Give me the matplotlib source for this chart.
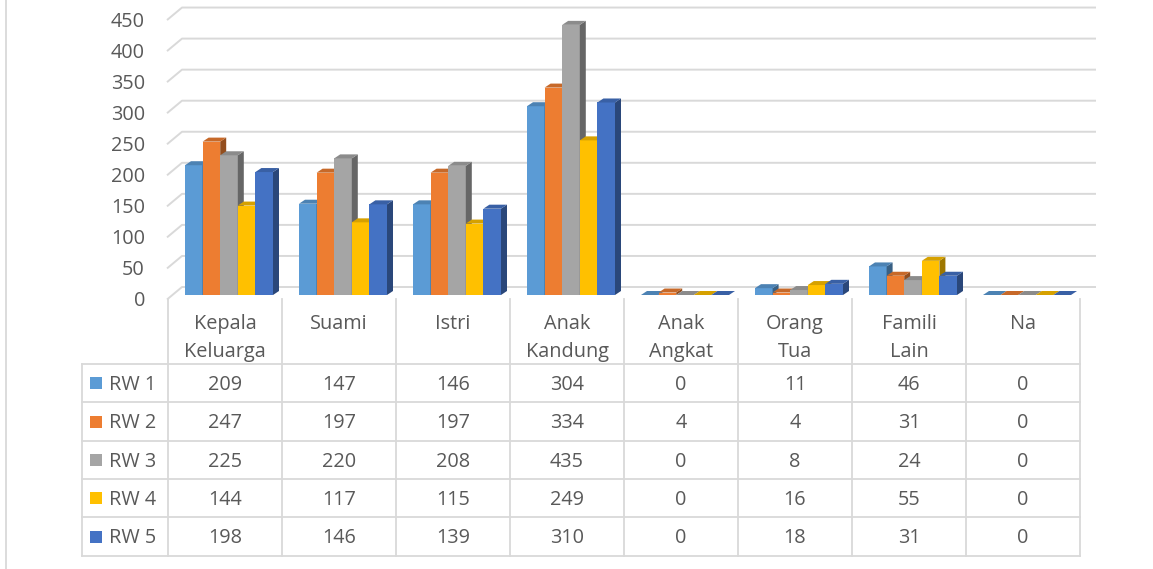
import matplotlib
matplotlib.use("Agg")
import matplotlib.pyplot as plt
from matplotlib.patches import Polygon, Rectangle
from matplotlib.colors import to_rgb
import numpy as np

plt.rcParams['font.family'] = ['Open Sans', 'DejaVu Sans']

categories = ["Kepala\nKeluarga", "Suami", "Istri", "Anak\nKandung", "Anak\nAngkat",
              "Orang\nTua", "Famili\nLain", "Na"]
series_names = ["RW 1", "RW 2", "RW 3", "RW 4", "RW 5"]
rw1 = [209, 147, 146, 304, 0, 11, 46, 0]
rw2 = [247, 197, 197, 334, 4, 4, 31, 0]
rw3 = [225, 220, 208, 435, 0, 8, 24, 0]
rw4 = [144, 117, 115, 249, 0, 16, 55, 0]
rw5 = [198, 146, 139, 310, 0, 18, 31, 0]
series_values = [rw1, rw2, rw3, rw4, rw5]
y_ticks = [0, 50, 100, 150, 200, 250, 300, 350, 400, 450]
colors = ["#5B9BD5", "#ED7D31", "#A5A5A5", "#FFC000", "#4472C4"]

TEXT = "#595959"
GRID = "#D9D9D9"
FS = 14.3

W, H = 1153, 569
fig = plt.figure(figsize=(W / 100, H / 100), dpi=100)
fig.patch.set_facecolor("white")

# pixel overlay axes (for table)
pax = fig.add_axes([0, 0, 1, 1], zorder=0)
pax.set_xlim(0, W)
pax.set_ylim(H, 0)
pax.axis("off")

# geometry (pixels)
col_w = 114.0
x_left = 168.0
x_right_back = 1096.0
base_y = 295.0
s = 0.621  # px per unit
ax = fig.add_axes([x_left / W, (H - base_y) / H, (x_right_back - x_left) / W, base_y / H], zorder=1)
ax.patch.set_alpha(0)
ax.set_xlim(-0.5, -0.5 + (x_right_back - x_left) / col_w)
ax.set_ylim(0, base_y / s)
ax.axis("off")

def px2dx(p):
    return p / col_w

def px2dy(p):
    return p / s

# gridlines (3D wall + back)
xmax = ax.get_xlim()[1]
for v in y_ticks:
    xs = [-0.5 - px2dx(1), -0.5 + px2dx(14), xmax]
    ys = [v - px2dy(4.5), v + px2dy(8), v + px2dy(8)]
    ax.plot(xs, ys, color=GRID, lw=1.4, clip_on=False, zorder=1, solid_capstyle="butt")
    ax.text(-0.5 - px2dx(23), v - px2dy(6.5), str(v), ha="right", va="center",
            fontsize=FS, color=TEXT, clip_on=False)

# bars
bw = px2dx(17.6)
off = px2dx(17)
ddx = px2dx(6)
ddy = px2dy(4)

def shade(c, f):
    r, g, b = to_rgb(c)
    return (r * f, g * f, b * f)

z = 2
for i in range(len(categories)):
    for j, vals in enumerate(series_values):
        v = vals[i]
        x0 = i - 0.5 + off + j * bw
        c = colors[j]
        ax.add_patch(Rectangle((x0, 0), bw, v, facecolor=c, edgecolor="none", zorder=z, clip_on=False))
        ax.add_patch(Polygon([(x0 + bw, 0), (x0 + bw + ddx, ddy), (x0 + bw + ddx, v + ddy), (x0 + bw, v)],
                             closed=True, facecolor=shade(c, 0.62), edgecolor="none", zorder=z, clip_on=False))
        ax.add_patch(Polygon([(x0, v), (x0 + ddx, v + ddy), (x0 + bw + ddx, v + ddy), (x0 + bw, v)],
                             closed=True, facecolor=shade(c, 0.84), edgecolor="none", zorder=z, clip_on=False))
        z += 1

# chart-area left border
pax.plot([6, 6], [0, H], color=GRID, lw=1.3)

# data table
row_lines = [364, 402, 441, 479, 517, 556]
n = len(categories)
col_edges = [x_left + k * col_w for k in range(n + 1)]
leg_left = 82
for y in row_lines:
    pax.plot([leg_left, col_edges[-1]], [y, y], color=GRID, lw=1.3)
pax.plot([leg_left, leg_left], [row_lines[0], row_lines[-1]], color=GRID, lw=1.3)
for xe in col_edges:
    pax.plot([xe, xe], [299, row_lines[-1]], color=GRID, lw=1.3)

# header labels
for k, cat in enumerate(categories):
    cx = (col_edges[k] + col_edges[k + 1]) / 2
    for li, line in enumerate(cat.split("\n")):
        pax.text(cx, 324 + li * 28, line, ha="center", va="center", fontsize=FS, color=TEXT)

# rows
for r, (name, vals) in enumerate(zip(series_names, series_values)):
    cy = (row_lines[r] + row_lines[r + 1]) / 2
    pax.add_patch(Rectangle((90, cy - 6), 12, 12, facecolor=colors[r], edgecolor="none"))
    pax.text(109, cy + 1.5, name, ha="left", va="center", fontsize=FS, color=TEXT)
    for k, v in enumerate(vals):
        cx = (col_edges[k] + col_edges[k + 1]) / 2
        pax.text(cx, cy + 1.5, str(v), ha="center", va="center", fontsize=FS, color=TEXT)

fig.savefig("out.png", dpi=100, facecolor="white")
